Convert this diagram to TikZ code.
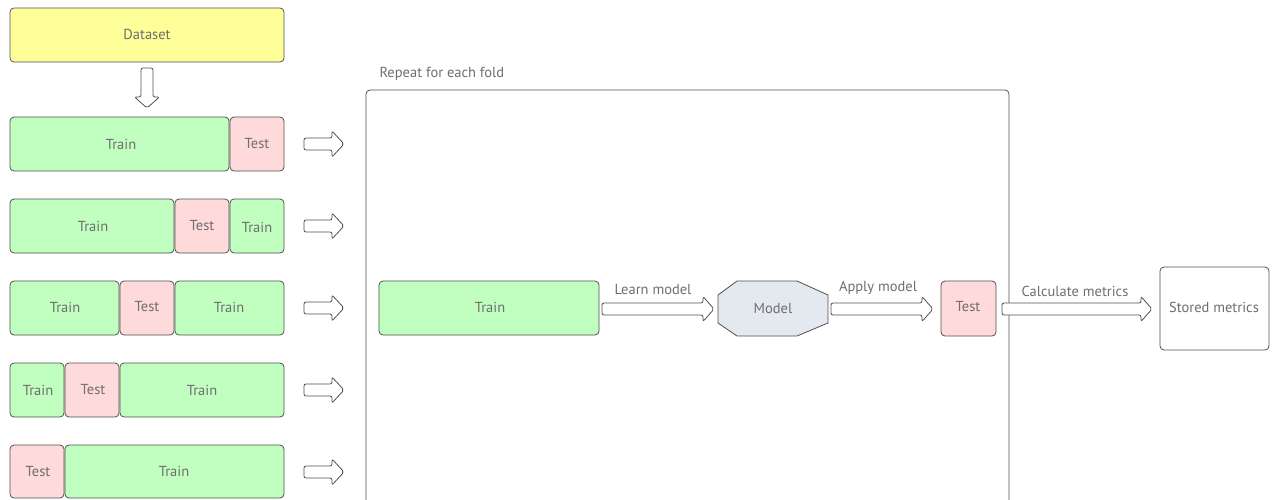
\documentclass[tikz,border=0pt]{standalone}
\usepackage{fontspec}
\setmainfont{PT Sans}
\definecolor{dsyellow}{HTML}{FFFF99}
\definecolor{trgreen}{HTML}{C0FFC0}
\definecolor{tspink}{HTML}{FFDADA}
\definecolor{mdgray}{HTML}{E4E8EF}
\definecolor{edge}{HTML}{505050}
\definecolor{tgray}{HTML}{6E6E6E}
\begin{document}
\begin{tikzpicture}[x=1pt,y=-1pt,
  txt/.style={text=tgray, font=\fontsize{14.5}{16}\selectfont},
  box/.style={draw=edge, line width=0.8pt, rounded corners=4pt, txt},
  trainbox/.style={box, fill=trgreen},
  testbox/.style={box, fill=tspink},
  barrow/.style={draw=edge, line width=0.8pt, fill=white, rounded corners=2pt},
  lbl/.style={txt, anchor=south}]
\newcommand\hArrow[6]{%
  \draw[barrow] (#1,#3-#4) -- (#2-#6,#3-#4) -- (#2-#6,#3-#5) -- (#2,#3) -- (#2-#6,#3+#5) -- (#2-#6,#3+#4) -- (#1,#3+#4) -- cycle;}
\useasboundingbox (0,0) rectangle (1273,499);
\clip (0,0) rectangle (1273,499);
% dataset
\draw[box, fill=dsyellow] (10,8) rectangle (284,62);
\node[txt] (ds) at (147,34) {Dataset};
% down arrow
\draw[barrow] (141,68) -- (153,68) -- (153,97) -- (159.5,97) -- (147,108) -- (134.5,97) -- (141,97) -- cycle;
% row 1
\draw[trainbox] (10,117) rectangle (229,171); \node[txt] (r1a) at (121,144) {Train};
\draw[testbox] (230,117) rectangle (284,171); \node[txt] (r1b) at (257,144) {Test};
% row 2
\draw[trainbox] (10,199) rectangle (174,253); \node[txt] (r2a) at (93,226) {Train};
\draw[testbox] (175,199) rectangle (229,253); \node[txt] (r2b) at (202,226) {Test};
\draw[trainbox] (230,199) rectangle (284,253); \node[txt] (r2c) at (257,227) {Train};
% row 3
\draw[trainbox] (10,281) rectangle (119,335); \node[txt] (r3a) at (65,307) {Train};
\draw[testbox] (120,281) rectangle (174,335); \node[txt] (r3b) at (147,307) {Test};
\draw[trainbox] (175,281) rectangle (284,335); \node[txt] (r3c) at (229,307) {Train};
% row 4
\draw[trainbox] (10,363) rectangle (64,417); \node[txt] (r4a) at (38,390) {Train};
\draw[testbox] (65,363) rectangle (119,417); \node[txt] (r4b) at (93,390) {Test};
\draw[trainbox] (120,363) rectangle (284,417); \node[txt] (r4c) at (202,390) {Train};
% row 5
\draw[testbox] (10,445) rectangle (64,498); \node[txt] (r5a) at (38,472) {Test};
\draw[trainbox] (65,445) rectangle (284,498); \node[txt] (r5b) at (174,471) {Train};
% right arrows
\foreach \yc in {144,226,308,390,472} {\hArrow{304}{344}{\yc}{6}{13}{12}}
% big box
\draw[draw=edge, line width=0.8pt, rounded corners=4pt] (366,90) rectangle (1009,530);
\node[txt, anchor=south west] (rep) at (376,84) {Repeat for each fold};
% inner flow
\draw[trainbox] (379,281) rectangle (599,335); \node[txt] (itrain) at (490,307) {Train};
\hArrow{602}{714}{309}{6}{12.5}{11}
\node[lbl] (learn) at (653,298) {Learn model};
\draw[draw=edge, line width=0.8pt, fill=mdgray] (737,281) -- (797,281) -- (828,295) -- (828,323) -- (797,336) -- (737,336) -- (718,323) -- (718,295) -- cycle;
\node[txt] (model) at (773,309) {Model};
\hArrow{831}{933}{309}{6}{12.5}{11}
\node[lbl] (apply) at (878,298) {Apply model};
\draw[testbox] (941,281) rectangle (996,336); \node[txt] (itest) at (968,307) {Test};
\hArrow{1002}{1152}{309}{6}{12.5}{11}
\node[lbl] (calc) at (1075,300) {Calculate metrics};
\draw[box, fill=white] (1160,267) rectangle (1269,350);
\node[txt] (stored) at (1214,307) {Stored metrics};
\end{tikzpicture}
\end{document}
